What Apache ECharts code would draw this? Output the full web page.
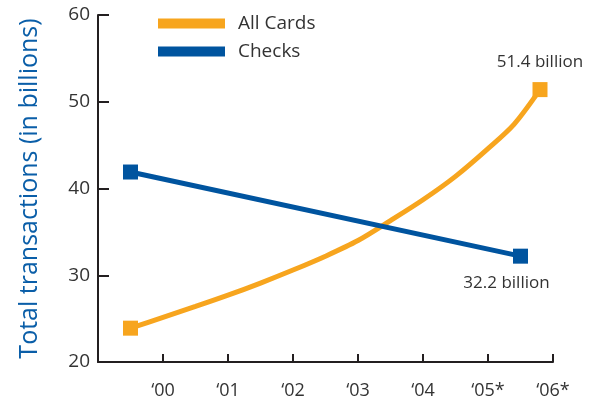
<!DOCTYPE html>
<html>
<head>
<meta charset="utf-8">
<script src="https://cdn.jsdelivr.net/npm/echarts@6/dist/echarts.min.js"></script>
<style>
  html, body { margin: 0; padding: 0; background: #fff; }
  #chart { width: 597px; height: 402px; }
</style>
</head>
<body>
<div id="chart"></div>
<script>
// 数据
var years = [2000, 2001, 2002, 2003, 2004, 2005, 2006];
var yearLabels = ['‘00', '‘01', '‘02', '‘03', '‘04', '‘05*', '‘06*'];
// All Cards curve [year, billions]
var cardsX = [1999.5, 2000.0, 2000.5, 2001.0, 2001.5, 2002.0, 2002.5, 2003.0, 2003.5, 2004.0, 2004.5, 2005.0, 2005.4, 2005.8];
var cardsY = [23.9, 25.15, 26.4, 27.7, 29.1, 30.6, 32.2, 34.0, 36.3, 38.7, 41.4, 44.6, 47.4, 51.4];
// Checks line
var checksX = [1999.5, 2005.5];
var checksY = [41.9, 32.2];

var orange = '#F7A51E';
var blue = '#00549F';
var textColor = '#333333';
var font = 'Open Sans';

function buildData(xs, ys, labelOpt) {
    var out = [];
    for (var i = 0; i < xs.length; i++) {
        var item = { value: [xs[i], ys[i]] };
        var isEnd = (i === 0 || i === xs.length - 1);
        item.symbol = isEnd ? 'rect' : 'none';
        if (i === xs.length - 1 && labelOpt) item.label = labelOpt;
        out.push(item);
    }
    return out;
}

var dom = document.getElementById('chart');
var myChart = echarts.init(dom);
var option = {
    animation: false,
    textStyle: { fontFamily: font },
    grid: { left: 98, right: 44, top: 15, bottom: 40 },
    legend: {
        orient: 'vertical',
        left: 153,
        top: 9,
        itemWidth: 67,
        itemHeight: 10,
        itemGap: 9,
        textStyle: { fontSize: 19, color: textColor, fontFamily: font, padding: [0, 0, 0, 8] },
        data: [
            { name: 'All Cards', icon: 'rect' },
            { name: 'Checks', icon: 'rect' }
        ]
    },
    xAxis: {
        type: 'value',
        min: 1999,
        max: 2006,
        interval: 1,
        splitLine: { show: false },
        axisLine: { lineStyle: { color: '#231f20', width: 2 } },
        axisTick: { inside: true, length: 8, lineStyle: { color: '#231f20', width: 2 } },
        axisLabel: {
            margin: 20,
            fontSize: 18,
            color: textColor,
            formatter: function (v) {
                var idx = years.indexOf(Math.round(v));
                return idx >= 0 ? yearLabels[idx] : '';
            }
        }
    },
    yAxis: {
        type: 'value',
        min: 20,
        max: 60,
        interval: 10,
        name: 'Total transactions (in billions)',
        nameLocation: 'middle',
        nameGap: 56,
        nameTextStyle: { color: '#0a5ea8', fontSize: 25, fontFamily: font },
        splitLine: { show: false },
        axisLine: { show: true, lineStyle: { color: '#231f20', width: 2 } },
        axisTick: { show: true, inside: true, length: 11, lineStyle: { color: '#231f20', width: 2 } },
        axisLabel: { margin: 8, fontSize: 19, color: textColor }
    },
    series: [
        {
            name: 'All Cards',
            type: 'line',
            smooth: 0.3,
            symbolSize: 15,
            lineStyle: { color: orange, width: 5 },
            itemStyle: { color: orange },
            data: buildData(cardsX, cardsY, {
                show: true,
                position: 'top',
                distance: 11,
                formatter: '51.4 billion',
                fontSize: 17,
                color: textColor
            })
        },
        {
            name: 'Checks',
            type: 'line',
            symbolSize: 15,
            lineStyle: { color: blue, width: 5 },
            itemStyle: { color: blue },
            data: buildData(checksX, checksY, {
                show: true,
                position: 'bottom',
                distance: 11,
                offset: [-14, 0],
                formatter: '32.2 billion',
                fontSize: 17,
                color: textColor
            })
        }
    ]
};

if (option && typeof option === 'object') {
    myChart.setOption(option, true);
}
</script>
</body>
</html>
